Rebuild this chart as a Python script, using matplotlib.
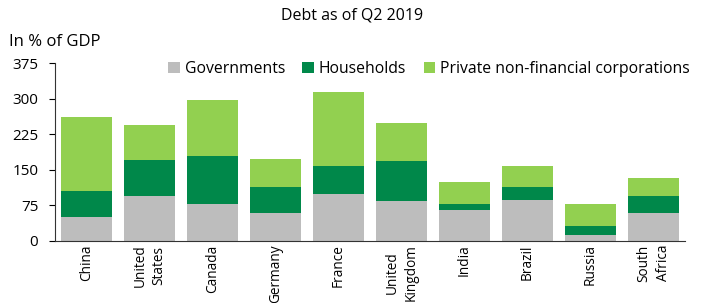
import numpy as np
import matplotlib.pyplot as plt

countries = ["China", "United\nStates", "Canada", "Germany", "France",
             "United\nKingdom", "India", "Brazil", "Russia", "South\nAfrica"]
governments = [51, 95, 78, 59, 99, 84, 65, 86, 13, 59]
households = [54, 76, 101, 55, 59, 85, 13, 28, 19, 36]
corporations = [156, 73, 118, 59, 156, 80, 46, 44, 46, 38]

plt.rcParams['font.family'] = ['Open Sans', 'DejaVu Sans']

fig = plt.figure(figsize=(7.05, 3.03), dpi=100)
ax = fig.add_axes([55/705, 1-241/303, 630/705, 178/303])

x = np.arange(len(countries))
gov = np.array(governments)
hh = np.array(households)
corp = np.array(corporations)

ax.bar(x, gov, width=0.8, color='#bdbdbd', label='Governments')
ax.bar(x, hh, width=0.8, bottom=gov, color='#00884a', label='Households')
ax.bar(x, corp, width=0.8, bottom=gov+hh, color='#92d050',
       label='Private non-financial corporations')

ax.set_xlim(-0.5, len(countries)-0.5)
ax.set_ylim(0, 375)
ax.set_yticks([0, 75, 150, 225, 300, 375])
ax.set_xticks(x)
ax.set_xticklabels(countries, rotation=90, fontsize=9.8, linespacing=1.4)
ax.tick_params(axis='x', length=0, pad=2.5)
ax.tick_params(axis='y', labelsize=11, length=4, direction='out', pad=8)
for s in ['top', 'right']:
    ax.spines[s].set_visible(False)
ax.spines['left'].set_color('#333333')
ax.spines['bottom'].set_color('#333333')

ax.legend(loc='upper right', bbox_to_anchor=(1.03, 1.09), ncol=3, frameon=False,
          fontsize=11.3, handlelength=0.75, handleheight=0.75, handletextpad=0.3,
          columnspacing=1.1)

fig.text(0.5, 1-16/303, 'Debt as of Q2 2019', ha='center', va='center', fontsize=11.5)
fig.text(9/705, 1-42/303, 'In % of GDP', ha='left', va='center', fontsize=12)

fig.savefig('out.png', dpi=100)
